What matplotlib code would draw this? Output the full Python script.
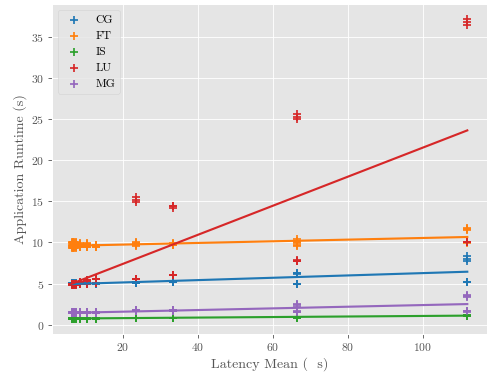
import matplotlib
matplotlib.use("Agg")
import matplotlib.pyplot as plt
import numpy as np

plt.style.use("ggplot")
plt.rcParams["font.family"] = "serif"
plt.rcParams["font.serif"] = ["cmr10", "DejaVu Serif"]
plt.rcParams["mathtext.fontset"] = "cm"
plt.rcParams["axes.formatter.use_mathtext"] = True
plt.rcParams["font.size"] = 11

# Latency levels (x) and runtimes per run at each level (y)
latency = [6.3, 6.6, 7.0, 7.4, 8.6, 10.5, 12.8, 23.5, 33.3, 66.5, 111.8]

cg = [
    [4.95, 5.00, 5.05, 4.95, 5.00, 5.05],
    [4.95, 5.00, 5.05, 4.95, 5.00, 5.05],
    [4.95, 5.00, 5.05, 4.95, 5.00, 5.05],
    [4.95, 5.00, 5.05, 4.95, 5.00, 5.05],
    [4.95, 5.00, 5.05, 4.95, 5.00, 5.05],
    [4.95, 5.00, 5.05, 4.95, 5.00, 5.05],
    [4.95, 5.00, 5.05, 4.95, 5.00, 5.05],
    [5.05, 5.10, 5.20, 5.05, 5.10, 5.20],
    [5.15, 5.20, 5.30, 5.15, 5.20, 5.30],
    [6.20, 6.25, 6.30, 4.95, 4.95, 5.00],
    [7.70, 8.00, 8.30, 5.15, 5.15, 5.20],
]
ft = [
    [9.35, 9.60, 9.90, 9.45, 9.70, 10.00],
    [9.35, 9.60, 9.90, 9.45, 9.70, 10.00],
    [9.35, 9.60, 9.90, 9.45, 9.70, 10.00],
    [9.35, 9.60, 9.90, 9.45, 9.70, 10.00],
    [9.40, 9.60, 9.80, 9.45, 9.65, 9.90],
    [9.40, 9.60, 9.80, 9.45, 9.65, 9.90],
    [9.40, 9.55, 9.70, 9.45, 9.60, 9.65],
    [9.60, 9.80, 10.00, 9.65, 9.85, 9.95],
    [9.70, 9.80, 9.90, 9.75, 9.80, 9.85],
    [9.60, 9.90, 10.20, 10.40, 9.75, 10.05],
    [11.50, 11.60, 11.80, 9.90, 10.00, 10.10],
]
is_ = [
    [0.70, 0.75, 0.80, 0.70, 0.75, 0.80],
    [0.70, 0.75, 0.80, 0.70, 0.75, 0.80],
    [0.70, 0.75, 0.80, 0.70, 0.75, 0.80],
    [0.70, 0.75, 0.80, 0.70, 0.75, 0.80],
    [0.72, 0.76, 0.80, 0.72, 0.76, 0.80],
    [0.72, 0.76, 0.80, 0.72, 0.76, 0.80],
    [0.72, 0.76, 0.80, 0.72, 0.76, 0.80],
    [0.76, 0.80, 0.84, 0.76, 0.80, 0.84],
    [0.78, 0.82, 0.86, 0.78, 0.82, 0.86],
    [0.86, 0.90, 0.95, 0.86, 0.90, 0.95],
    [1.00, 1.10, 1.20, 1.05, 1.15, 1.20],
]
lu = [
    [4.85, 4.90, 4.95, 4.85, 4.90, 4.95],
    [4.85, 4.90, 4.95, 4.85, 4.90, 4.95],
    [4.85, 4.90, 4.95, 4.85, 4.90, 4.95],
    [4.85, 4.90, 4.95, 4.85, 4.90, 4.95],
    [4.95, 5.10, 5.20, 4.95, 5.10, 5.20],
    [5.00, 5.30, 5.40, 5.00, 5.30, 5.40],
    [5.10, 5.50, 5.60, 5.10, 5.50, 5.60],
    [14.90, 15.20, 15.50, 5.50, 5.50, 5.60],
    [14.25, 14.40, 14.50, 6.00, 6.00, 6.05],
    [25.00, 25.30, 25.60, 7.80, 7.80, 7.85, 7.80],
    [36.50, 36.85, 37.20, 10.00, 10.00, 10.10],
]
mg = [
    [1.38, 1.45, 1.52, 1.38, 1.45, 1.52],
    [1.38, 1.45, 1.52, 1.38, 1.45, 1.52],
    [1.38, 1.45, 1.52, 1.38, 1.45, 1.52],
    [1.38, 1.45, 1.52, 1.38, 1.45, 1.52],
    [1.40, 1.45, 1.50, 1.40, 1.45, 1.50],
    [1.40, 1.45, 1.50, 1.40, 1.45, 1.50],
    [1.40, 1.45, 1.50, 1.40, 1.45, 1.50],
    [1.60, 1.70, 1.80, 1.60, 1.70, 1.80],
    [1.65, 1.70, 1.75, 1.65, 1.70, 1.75],
    [2.20, 2.35, 2.45, 1.55, 1.55, 1.60],
    [3.40, 3.50, 3.55, 1.55, 1.60, 1.65],
]

names = ["CG", "FT", "IS", "LU", "MG"]
series = [cg, ft, is_, lu, mg]
colors = ["#1f77b4", "#ff7f0e", "#2ca02c", "#d62728", "#9467bd"]

dpi = 76.5625
fig = plt.figure(figsize=(490 / dpi, 373 / dpi), dpi=dpi)
ax = fig.add_subplot(111)
fig.subplots_adjust(left=0.106, right=0.994, top=0.989, bottom=0.105)

for name, data, col in zip(names, series, colors):
    xs = np.concatenate([[lat] * len(runs) for lat, runs in zip(latency, data)])
    ys = np.concatenate([runs for runs in data])
    ax.scatter(xs, ys, marker="+", color=col, label=name, s=50, linewidths=1.6)
    m, b = np.polyfit(xs, ys, 1)
    xl = np.array([xs.min(), xs.max()])
    ax.plot(xl, m * xl + b, color=col, linewidth=2)

ax.set_xlabel("Latency Mean (  s)")
ax.set_ylabel("Application Runtime (s)")
ax.legend(loc="upper left")

fig.savefig("out.png", dpi=dpi)
